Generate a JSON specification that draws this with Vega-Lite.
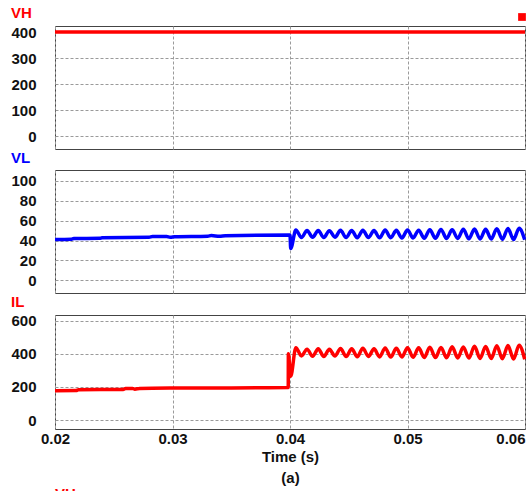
{
  "$schema": "https://vega.github.io/schema/vega-lite/v6.json",
  "padding": {"left": 10, "top": 5, "right": 1, "bottom": 0},
  "spacing": 0,
  "config": {
    "font": "Liberation Sans",
    "view": {"stroke": "#444", "strokeWidth": 1},
    "axis": {"gridColor": "#9a9a9a", "gridDash": [3, 2], "gridWidth": 1, "domain": false, "ticks": false, "labelFontWeight": "bold", "labelFontSize": 15, "labelColor": "#111", "labelFont": "Liberation Sans", "titleFont": "Liberation Sans"},
    "axisY": {"labelPadding": 19},
    "axisX": {"labelPadding": 2},
    "title": {"anchor": "start", "fontSize": 15, "fontWeight": "bold", "font": "Liberation Sans", "offset": 4}
  },
  "datasets": {
    "vh": [{"t": 0.02, "v": 400}, {"t": 0.03, "v": 400}, {"t": 0.04, "v": 400}, {"t": 0.05, "v": 400}, {"t": 0.06, "v": 400}],
    "vl": [
      {"t": 0.02, "v": 41}, {"t": 0.0214, "v": 41.3}, {"t": 0.0216, "v": 42}, {"t": 0.0238, "v": 42.2}, {"t": 0.024, "v": 42.8},
      {"t": 0.028, "v": 43.2}, {"t": 0.0283, "v": 44}, {"t": 0.0295, "v": 44}, {"t": 0.0298, "v": 43.2}, {"t": 0.0302, "v": 43.8},
      {"t": 0.033, "v": 44.3}, {"t": 0.0333, "v": 45}, {"t": 0.034, "v": 44.3}, {"t": 0.0345, "v": 44.8}, {"t": 0.0399, "v": 45.5},
      {"t": 0.04, "v": 45.5}, {"t": 0.04006, "v": 32},
      {"t": 0.0405, "v": 50.5}, {"t": 0.040975, "v": 43},
      {"t": 0.04145, "v": 50}, {"t": 0.041925, "v": 43.2},
      {"t": 0.0424, "v": 50}, {"t": 0.042875, "v": 43},
      {"t": 0.04335, "v": 49.8}, {"t": 0.043825, "v": 43.3},
      {"t": 0.0443, "v": 50.2}, {"t": 0.044775, "v": 43},
      {"t": 0.04525, "v": 50}, {"t": 0.045725, "v": 42.8},
      {"t": 0.0462, "v": 50.3}, {"t": 0.046675, "v": 43},
      {"t": 0.04715, "v": 50}, {"t": 0.047625, "v": 42.7},
      {"t": 0.0481, "v": 50.5}, {"t": 0.048575, "v": 42.8},
      {"t": 0.04905, "v": 50.2}, {"t": 0.049525, "v": 42.5},
      {"t": 0.05, "v": 50.6}, {"t": 0.050475, "v": 42.6},
      {"t": 0.05095, "v": 50.4}, {"t": 0.051425, "v": 42.3},
      {"t": 0.0519, "v": 50.8}, {"t": 0.052375, "v": 42.2},
      {"t": 0.05285, "v": 51}, {"t": 0.053325, "v": 42},
      {"t": 0.0538, "v": 50.8}, {"t": 0.054275, "v": 42.1},
      {"t": 0.05475, "v": 51.3}, {"t": 0.055225, "v": 41.7},
      {"t": 0.0557, "v": 51.5}, {"t": 0.056175, "v": 41.6},
      {"t": 0.05665, "v": 51.2}, {"t": 0.057125, "v": 41.5},
      {"t": 0.0576, "v": 51.8}, {"t": 0.058075, "v": 41.2},
      {"t": 0.05855, "v": 52}, {"t": 0.059025, "v": 41},
      {"t": 0.0595, "v": 52.3}, {"t": 0.059975, "v": 40.8}
    ],
    "il": [
      {"t": 0.02, "v": 177}, {"t": 0.0218, "v": 178}, {"t": 0.022, "v": 183}, {"t": 0.0258, "v": 185}, {"t": 0.026, "v": 191},
      {"t": 0.0266, "v": 191}, {"t": 0.0268, "v": 186}, {"t": 0.0272, "v": 191}, {"t": 0.03, "v": 193}, {"t": 0.035, "v": 194},
      {"t": 0.03985, "v": 196}, {"t": 0.03986, "v": 400}, {"t": 0.04006, "v": 265},
      {"t": 0.0405, "v": 437}, {"t": 0.040975, "v": 387},
      {"t": 0.04145, "v": 428}, {"t": 0.041925, "v": 385},
      {"t": 0.0424, "v": 430}, {"t": 0.042875, "v": 384},
      {"t": 0.04335, "v": 427}, {"t": 0.043825, "v": 386},
      {"t": 0.0443, "v": 432}, {"t": 0.044775, "v": 383},
      {"t": 0.04525, "v": 430}, {"t": 0.045725, "v": 382},
      {"t": 0.0462, "v": 433}, {"t": 0.046675, "v": 384},
      {"t": 0.04715, "v": 430}, {"t": 0.047625, "v": 381},
      {"t": 0.0481, "v": 435}, {"t": 0.048575, "v": 380},
      {"t": 0.04905, "v": 433}, {"t": 0.049525, "v": 381},
      {"t": 0.05, "v": 437}, {"t": 0.050475, "v": 379},
      {"t": 0.05095, "v": 436}, {"t": 0.051425, "v": 378},
      {"t": 0.0519, "v": 440}, {"t": 0.052375, "v": 377},
      {"t": 0.05285, "v": 438}, {"t": 0.053325, "v": 376},
      {"t": 0.0538, "v": 442}, {"t": 0.054275, "v": 375},
      {"t": 0.05475, "v": 441}, {"t": 0.055225, "v": 374},
      {"t": 0.0557, "v": 445}, {"t": 0.056175, "v": 372},
      {"t": 0.05665, "v": 444}, {"t": 0.057125, "v": 371},
      {"t": 0.0576, "v": 448}, {"t": 0.058075, "v": 370},
      {"t": 0.05855, "v": 450}, {"t": 0.059025, "v": 368},
      {"t": 0.0595, "v": 452}, {"t": 0.059975, "v": 367}
    ]
  },
  "vconcat": [
    {
      "width": 470, "height": 123,
      "title": {"text": "VH", "color": "#ff0000"},
      "data": {"name": "vh"},
      "mark": {"type": "line", "strokeWidth": 3.5},
      "encoding": {
        "x": {"field": "t", "type": "quantitative", "scale": {"domain": [0.02, 0.06], "nice": false}, "axis": {"values": [0.02, 0.03, 0.04, 0.05, 0.06], "labels": false, "title": null}},
        "y": {"field": "v", "type": "quantitative", "scale": {"domain": [-48, 423], "nice": false, "zero": false}, "axis": {"values": [0, 100, 200, 300, 400], "title": null}},
        "color": {"datum": "VH", "scale": {"range": ["#ff0000"]}, "legend": {"orient": "none", "legendX": 462, "legendY": -14, "symbolType": "square", "symbolSize": 60, "symbolFillColor": "#ff0000", "symbolStrokeColor": "#ff0000", "symbolStrokeWidth": 0, "labelExpr": "''", "title": null, "padding": 0, "labelOffset": 0}}
      }
    },
    {
      "width": 470, "height": 123,
      "title": {"text": "VL", "color": "#0000ff"},
      "data": {"name": "vl"},
      "mark": {"type": "line", "strokeWidth": 3.5, "color": "#0000ff", "interpolate": "monotone"},
      "encoding": {
        "x": {"field": "t", "type": "quantitative", "scale": {"domain": [0.02, 0.06], "nice": false}, "axis": {"values": [0.02, 0.03, 0.04, 0.05, 0.06], "labels": false, "title": null}},
        "y": {"field": "v", "type": "quantitative", "scale": {"domain": [-12.6, 110.7], "nice": false, "zero": false}, "axis": {"values": [0, 20, 40, 60, 80, 100], "title": null}}
      }
    },
    {
      "width": 470, "height": 114,
      "title": {"text": "IL", "color": "#ff0000"},
      "data": {"name": "il"},
      "mark": {"type": "line", "strokeWidth": 3.5, "color": "#ff0000", "interpolate": "monotone"},
      "encoding": {
        "x": {"field": "t", "type": "quantitative", "scale": {"domain": [0.02, 0.06], "nice": false}, "axis": {"values": [0.02, 0.03, 0.04, 0.05, 0.06], "format": ".2f", "labelAlign": {"condition": {"test": "datum.value >= 0.059", "value": "right"}, "value": "center"}, "title": ["Time (s)", "(a)"], "titleFontSize": 15, "titleFontWeight": "bold", "titleColor": "#111", "titlePadding": 3, "titleLineHeight": 21}},
        "y": {"field": "v", "type": "quantitative", "scale": {"domain": [-54, 634], "nice": false, "zero": false}, "axis": {"values": [0, 200, 400, 600], "title": null}}
      }
    },
    {
      "width": 470, "height": 1,
      "title": {"text": "VH", "color": "#ff0000"},
      "view": {"stroke": null},
      "data": {"values": [{"a": 1}]},
      "mark": {"type": "text", "text": ""},
      "encoding": {}
    }
  ]
}
